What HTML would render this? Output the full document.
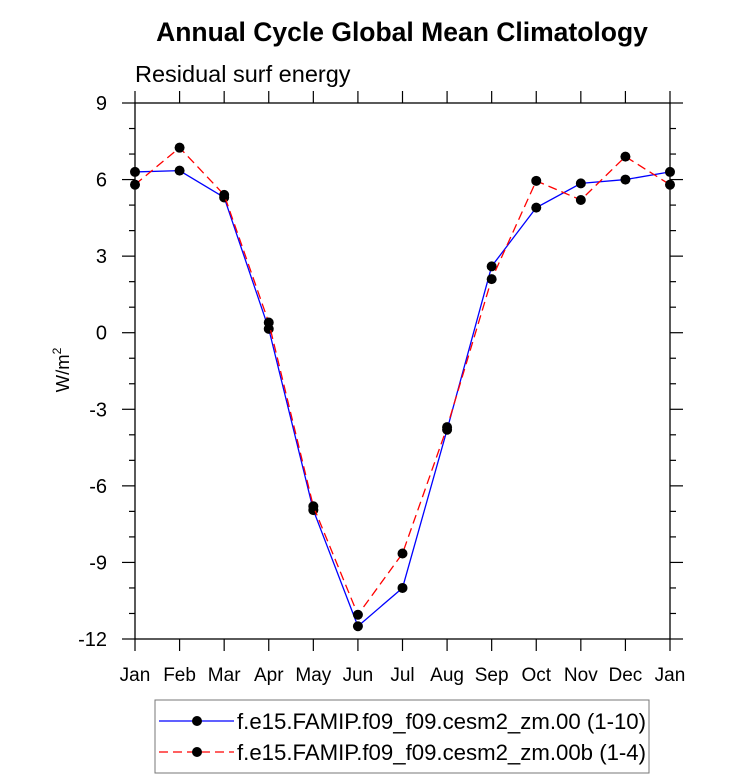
<!DOCTYPE html>
<html><head><meta charset="utf-8"><style>
body{margin:0;background:#fff;width:733px;height:778px;overflow:hidden}
svg text{font-family:"Liberation Sans",Arial,sans-serif;fill:#000}
</style></head><body>
<svg id="chart" width="733" height="778" xmlns="http://www.w3.org/2000/svg">
<text x="402" y="41" text-anchor="middle" font-size="26.5" font-weight="bold">Annual Cycle Global Mean Climatology</text>
<text x="135" y="82" font-size="23.5">Residual surf energy</text>
<text transform="translate(69,370) rotate(-90)" text-anchor="middle" font-size="18.5">W/m<tspan dy="-8" font-size="12">2</tspan></text>
<g id="axes"></g>
<g id="series"></g>
<g>
<rect x="155" y="700" width="494" height="73" fill="none" stroke="#777" stroke-width="1"/>
<g>
<line x1="159" y1="721" x2="234" y2="721" stroke="#0000ff" stroke-width="1.3"/>
<circle cx="197" cy="721" r="5" fill="#000"/>
<text x="237" y="729" font-size="22.2">f.e15.FAMIP.f09_f09.cesm2_zm.00 (1-10)</text>
</g>
<g>
<line x1="159" y1="752" x2="234" y2="752" stroke="#ff0000" stroke-width="1.3" stroke-dasharray="9,5"/>
<circle cx="197" cy="752" r="5" fill="#000"/>
<text x="237" y="760" font-size="22.2">f.e15.FAMIP.f09_f09.cesm2_zm.00b (1-4)</text>
</g>
</g>
</svg>
<script>
const months=["Jan","Feb","Mar","Apr","May","Jun","Jul","Aug","Sep","Oct","Nov","Dec","Jan"];
const blueValues=[6.3,6.35,5.3,0.15,-6.95,-11.5,-10.0,-3.8,2.6,4.9,5.85,6.0,6.3];
const redValues=[5.8,7.25,5.4,0.4,-6.8,-11.05,-8.65,-3.7,2.1,5.95,5.2,6.9,5.8];
const yTicks=[9,6,3,0,-3,-6,-9,-12];
const L=135,R=670,T=103,B=639,yMin=-12,yMax=9;
const NS="http://www.w3.org/2000/svg";
function xS(i){return L+(R-L)*i/(months.length-1);}
function yS(v){return B-(v-yMin)/(yMax-yMin)*(B-T);}
function mk(tag,attrs,parent){const e=document.createElementNS(NS,tag);for(const k in attrs)e.setAttribute(k,attrs[k]);parent.appendChild(e);return e;}
const ax=document.getElementById('axes');
const frame=mk('rect',{x:L,y:T,width:R-L,height:B-T,fill:'none',stroke:'#000','stroke-width':1.3},ax);


months.forEach((m,i)=>{
  const x=xS(i);
  mk('line',{x1:x,y1:B,x2:x,y2:B+12,stroke:'#000','stroke-width':1.2},ax);
  mk('line',{x1:x,y1:T,x2:x,y2:T-12,stroke:'#000','stroke-width':1.2},ax);
  const t=mk('text',{x:x,y:B+42,'text-anchor':'middle','font-size':19},ax);
  t.textContent=m;
  
  
});
for(let v=yMin;v<=yMax;v+=1){
  const y=yS(v),major=(v%3===0),len=major?13:6;
  mk('line',{x1:L,y1:y,x2:L-len,y2:y,stroke:'#000','stroke-width':1.2},ax);
  mk('line',{x1:R,y1:y,x2:R+len,y2:y,stroke:'#000','stroke-width':1.2},ax);
}
yTicks.forEach(v=>{
  const t=mk('text',{x:107,y:yS(v)+7,'text-anchor':'end','font-size':20},ax);
  t.textContent=v;
  
  
});
const sg=document.getElementById('series');
function drawSeries(vals,color,dash,name){
  const g=mk('g',{},sg);
  
  
  const pts=vals.map((v,i)=>xS(i)+','+yS(v)).join(' ');
  const a={points:pts,fill:'none',stroke:color,'stroke-width':1.3};
  if(dash)a['stroke-dasharray']=dash;
  mk('polyline',a,g);
  vals.forEach((v,i)=>{
    const c=mk('circle',{cx:xS(i),cy:yS(v),r:5,fill:'#000'},g);
    
    
  });
}
drawSeries(blueValues,'#0000ff',null,'series-00');
drawSeries(redValues,'#ff0000','9,5','series-00b');
</script>
</body></html>
